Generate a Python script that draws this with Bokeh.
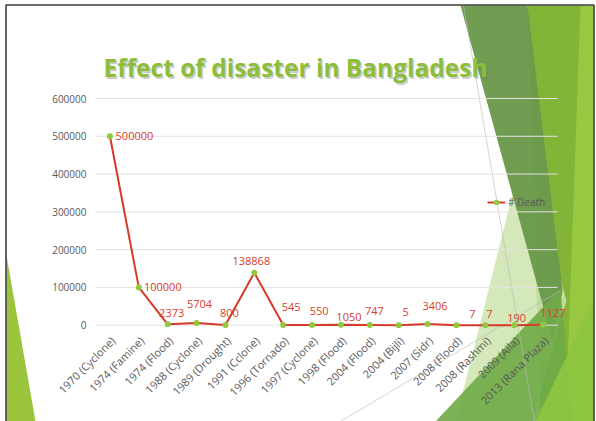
import math
from bokeh.plotting import figure
from bokeh.models import (ColumnDataSource, Range1d, FixedTicker, LinearAxis,
                          NumeralTickFormatter, Legend, LegendItem, Label)
from bokeh.core.properties import value
from bokeh.embed import file_html
from bokeh.resources import INLINE

# ---------------- data ----------------
categories = ["1970 (Cyclone)", "1974 (Famine)", "1974 (Flood)", "1988 (Cyclone)",
              "1989 (Drought)", "1991 (Cclone)", "1996 (Tornado)", "1997 (Cyclone)",
              "1998 (Flood)", "2004 (Flood)", "2004 (Bijli)", "2007 (Sidr)",
              "2008 (Flood)", "2008 (Rashmi)", "2009 (Aila)", "2013 (Rana Plaza)"]
deaths = [500000, 100000, 2373, 5704, 800, 138868, 545, 550,
          1050, 747, 5, 3406, 7, 7, 190, 1127]
y_ticks = [0, 100000, 200000, 300000, 400000, 500000, 600000]
series_name = "# Death"
title_text = "Effect of disaster in Bangladesh"

# data-label pixel offsets (styling)
label_dx = [24.5, 24, 4, 3, 4, -3, 8, 7, 8, 4.5, 7, 7.5, 16, 4, 2.5, 10]
label_dy = [0, 0, -11, -19.5, -12, -12, -18, -14, -8, -13.5, -13, -17.5, -11, -11.5, -7, -12]

# ---------------- layout constants (canvas pixels) ----------------
W, H = 596, 421
FL, FR = 95, 557                 # plot-area left / right
Y_TOP_PX, Y0_PX = 98.0, 324.7    # pixel rows of the top tick and of 0
FB = 330                         # plot-area bottom
n = len(categories)
step = (FR - FL) / n
x_start = -0.5 - FL / step
x_end = x_start + W / step
upp = (y_ticks[-1] - y_ticks[0]) / (Y0_PX - Y_TOP_PX)   # units per pixel
y_start = -(H - Y0_PX) * upp
y_end = Y0_PX * upp

LAB_SHIFT = 3     # px to the right for category labels
LAB_STANDOFF = 8

p = figure(width=W, height=H, x_range=Range1d(x_start, x_end), y_range=Range1d(y_start, y_end),
           x_axis_type=None, y_axis_type=None,
           output_backend="svg", toolbar_location=None, title=None,
           min_border_left=0, min_border_right=0, min_border_top=0, min_border_bottom=0)
p.outline_line_color = None
p.background_fill_color = "white"
p.border_fill_color = "white"
p.extra_x_ranges = {"px": Range1d(0, W),
                    "xlab": Range1d(x_start - LAB_SHIFT / step, x_end - LAB_SHIFT / step)}
p.extra_y_ranges = {"py": Range1d(H, 0)}

GRAY = "#595959"
FONT = "Open Sans"

# ---- decorative slide background (pixel space) ----
decor = [
    ("#82B438", 1.0, [(527, 5), (585, 5), (575, 421), (540, 421)]),
    ("#97C83F", 1.0, [(580, 5), (593, 5), (593, 421), (565, 421)]),
    ("#CDE4AE", 0.85, [(523, 150), (566, 300), (532, 421), (455, 421)]),
    ("#6B9A4C", 0.97, [(460, 5), (527, 5), (562, 290), (552, 340)]),
    ("#6FAA47", 0.9, [(435, 421), (560, 288), (572, 421)]),
    ("#8DC63F", 0.9, [(535, 421), (593, 300), (593, 421)]),
    ("#9BC53D", 1.0, [(6, 255), (6, 421), (35, 421)]),
]
for color, alpha, pts in decor:
    p.patch([x for x, _ in pts], [y for _, y in pts], fill_color=color,
            fill_alpha=alpha, line_color=None, x_range_name="px", y_range_name="py",
            level="underlay")
for pts in [[(463, 5), (534, 421)], [(340, 421), (560, 290)]]:
    p.line([x for x, _ in pts], [y for _, y in pts], line_color="#BBBBBB",
           line_width=0.8, line_alpha=0.8, x_range_name="px", y_range_name="py",
           level="underlay")

# ---- grid lines ----
p.segment(x0=[-0.5] * len(y_ticks), x1=[n - 0.5] * len(y_ticks), y0=y_ticks, y1=y_ticks,
          line_color="#E2E2E2", line_width=1)

# ---- axes ----
xaxis = LinearAxis(x_range_name="xlab", fixed_location=y_start + (H - FB) * upp,
                   ticker=FixedTicker(ticks=list(range(n))),
                   major_label_overrides={i: c for i, c in enumerate(categories)})
xaxis.major_label_orientation = math.pi / 4
xaxis.axis_line_color = None
xaxis.major_tick_line_color = None
xaxis.minor_tick_line_color = None
xaxis.major_tick_out = 0
xaxis.minor_tick_out = 0
xaxis.major_label_standoff = LAB_STANDOFF
xaxis.major_label_text_font = FONT
xaxis.major_label_text_font_size = "11px"
xaxis.major_label_text_color = GRAY
p.add_layout(xaxis, "below")

yaxis = LinearAxis(fixed_location=-0.5, ticker=FixedTicker(ticks=y_ticks),
                   formatter=NumeralTickFormatter(format="0"))
yaxis.axis_line_color = None
yaxis.major_tick_line_color = None
yaxis.minor_tick_line_color = None
yaxis.major_tick_out = 0
yaxis.minor_tick_out = 0
yaxis.major_label_standoff = 9
yaxis.major_label_text_font = FONT
yaxis.major_label_text_font_size = "10px"
yaxis.major_label_text_color = GRAY
p.add_layout(yaxis, "left")

# ---- series ----
src = ColumnDataSource(dict(idx=list(range(n)), val=deaths,
                            lab=[str(v) for v in deaths],
                            dx=label_dx, dy=label_dy))
r_line = p.line("idx", "val", source=src, line_color="#D63A2B", line_width=2)
r_pts = p.scatter("idx", "val", source=src, size=6, fill_color="#92C83E", line_color=None)
p.text("idx", "val", text="lab", source=src, x_offset="dx", y_offset="dy",
       text_font=value(FONT), text_font_size="11px", text_color="#D8402C",
       text_align="center", text_baseline="middle")

legend = Legend(items=[LegendItem(label=series_name, renderers=[r_line, r_pts])],
                location=(487, H - 209), padding=0, margin=0, spacing=0,
                border_line_color=None, background_fill_alpha=0,
                glyph_width=18, glyph_height=14, label_height=14, label_standoff=3,
                label_text_font=FONT, label_text_font_size="10px",
                label_text_color=GRAY)
p.add_layout(legend)

# ---- slide frame ----
p.line([5.5, 5.5, 593.5, 593.5], [421, 4.5, 4.5, 421], line_color="#3C3C3C", line_width=1.6,
       x_range_name="px", y_range_name="py")

# ---- title (with soft shadow) ----
for dx, dy, col, a in [(1.5, 1.5, "#6E6E6E", 0.35), (0, 0, "#8DBE3A", 1.0)]:
    p.add_layout(Label(x=295 + dx, y=67 + dy, x_range_name="px", y_range_name="py",
                       text=title_text, text_font=FONT, text_font_style="bold",
                       text_font_size="24.5px", text_color=col, text_alpha=a,
                       text_align="center", text_baseline="alphabetic"))

open("out.html", "w").write(file_html(p, INLINE))
